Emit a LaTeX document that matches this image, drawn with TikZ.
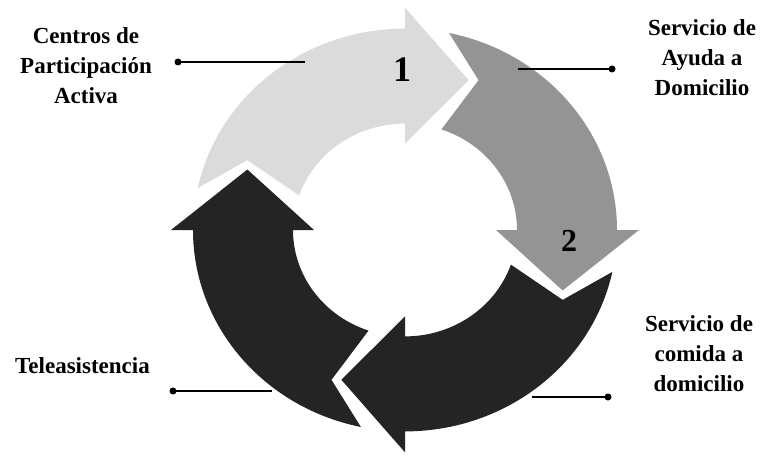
\documentclass[tikz,border=0pt]{standalone}
\usepackage{fontspec}
\setmainfont{Liberation Serif}
\newcommand\cycarrow[2]{%
  \fill[#2] (#1+78:\Ro) arc[start angle=#1+78, end angle=#1, radius=\Ro]
    -- (#1:\Rho) -- (#1-22:\Rt) -- (#1:\Rhi) -- (#1:\Ri)
    arc[start angle=#1, end angle=#1+71, radius=\Ri]
    -- (#1+65:\Rn) -- cycle;}
\begin{document}
\begin{tikzpicture}[x=1pt,y=1pt,
  lbl/.style={font=\fontsize{23}{30}\selectfont\bfseries, align=center, inner sep=0pt, anchor=north},
  num/.style={font=\fontsize{36}{36}\selectfont\bfseries, inner sep=0pt},
  dotst/.style={circle, fill=black, inner sep=0pt, minimum size=7pt},
  conn/.style={line width=1.6pt},
]
\useasboundingbox (0,0) rectangle (760,459);
\def\Ro{212}\def\Ri{112}\def\Rho{234}\def\Rhi{91}\def\Rt{170}\def\Rn{174}
\begin{scope}[shift={(405,229)}, yscale=0.95]
  \cycarrow{90}{black!14}
  \cycarrow{0}{black!42}
  \cycarrow{-90}{black!86}
  \cycarrow{180}{black!86}
\end{scope}
% numbers
\node[num] (n1) at (402,389) {1};
\node[num, font=\fontsize{32}{32}\selectfont\bfseries] (n2) at (569,218) {2};
% labels
\node[lbl] (lA) at (86,431.6) {Centros de\\Participación\\Activa};
\node[lbl] (lB) at (702,439.6) {Servicio de\\Ayuda a\\Domicilio};
\node[lbl] (lC) at (82.5,101.6) {Teleasistencia};
\node[lbl] (lD) at (699,143.6) {Servicio de\\comida a\\domicilio};
% connectors
\node[dotst] (d1) at (178,397) {};
\coordinate (e1) at (305,397);
\node[dotst] (d2) at (612,390) {};
\coordinate (e2) at (518,390);
\node[dotst] (d3) at (173,68) {};
\coordinate (e3) at (272,68);
\node[dotst] (d4) at (608,62) {};
\coordinate (e4) at (532,62);
\draw[conn] (d1.center) -- (e1);
\draw[conn] (d2.center) -- (e2);
\draw[conn] (d3.center) -- (e3);
\draw[conn] (d4.center) -- (e4);
\end{tikzpicture}
\end{document}
